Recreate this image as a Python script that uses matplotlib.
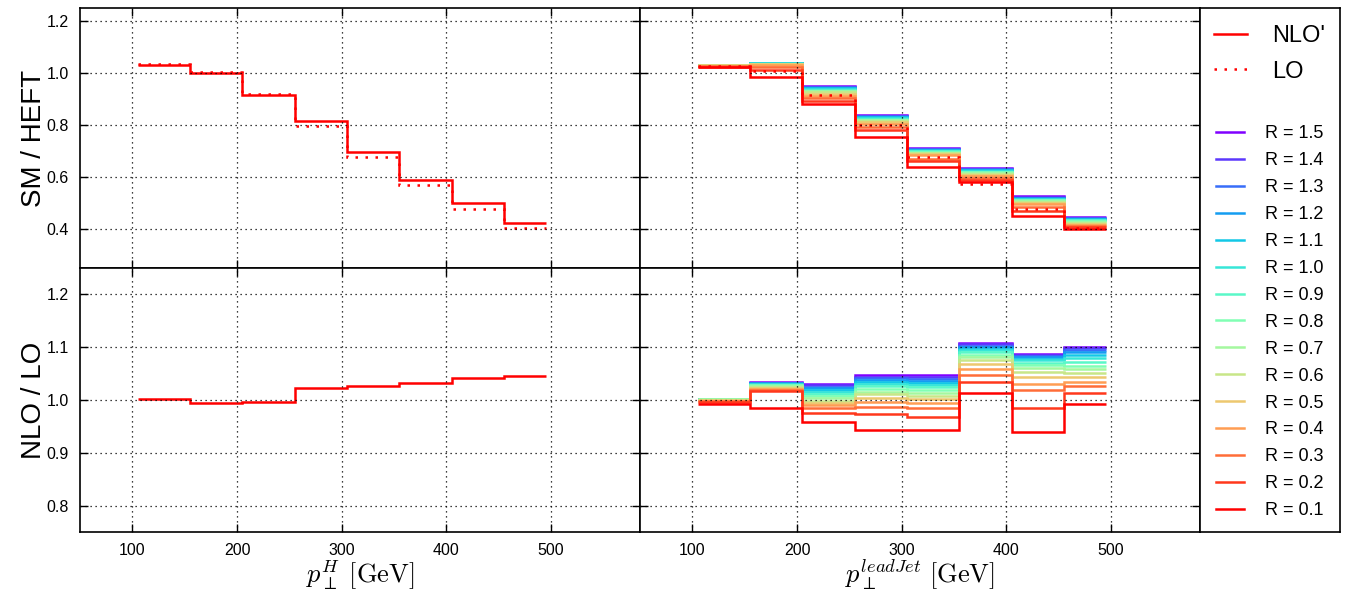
import numpy as np
import matplotlib
matplotlib.use("Agg")
import matplotlib.pyplot as plt
from matplotlib.lines import Line2D

plt.rcParams['font.family'] = ['Liberation Sans', 'DejaVu Sans']
plt.rcParams['mathtext.fontset'] = 'cm'

# ---------------- data ----------------
bin_edges = [105, 155, 205, 255, 305, 355, 405, 455, 495]

# left panels (p_T^H)
sm_heft_nlo = [1.032, 1.000, 0.916, 0.814, 0.695, 0.588, 0.499, 0.424]
sm_heft_lo = [1.033, 1.003, 0.920, 0.798, 0.676, 0.569, 0.478, 0.403]
nlo_lo_h = [1.002, 0.995, 0.997, 1.022, 1.027, 1.032, 1.042, 1.046]

R_values = [1.5, 1.4, 1.3, 1.2, 1.1, 1.0, 0.9, 0.8, 0.7, 0.6, 0.5, 0.4, 0.3, 0.2, 0.1]

# right top panel: SM/HEFT per bin (rows = bins, columns = R from 1.5 down to 0.1)
sm_heft_jet_bins = [
    [1.032, 1.032, 1.032, 1.031, 1.031, 1.031, 1.030, 1.030, 1.030, 1.029, 1.029, 1.028, 1.027, 1.025, 1.022],
    [1.040, 1.039, 1.039, 1.038, 1.038, 1.037, 1.036, 1.036, 1.035, 1.034, 1.033, 1.031, 1.025, 1.013, 0.986],
    [0.949, 0.947, 0.945, 0.943, 0.941, 0.938, 0.935, 0.932, 0.929, 0.925, 0.920, 0.912, 0.903, 0.893, 0.879],
    [0.838, 0.836, 0.834, 0.832, 0.830, 0.827, 0.824, 0.821, 0.818, 0.814, 0.810, 0.804, 0.792, 0.780, 0.752],
    [0.710, 0.709, 0.707, 0.705, 0.703, 0.701, 0.699, 0.697, 0.694, 0.691, 0.688, 0.683, 0.671, 0.660, 0.640],
    [0.634, 0.632, 0.630, 0.628, 0.626, 0.624, 0.621, 0.618, 0.615, 0.612, 0.608, 0.603, 0.596, 0.589, 0.580],
    [0.525, 0.523, 0.521, 0.519, 0.517, 0.515, 0.513, 0.510, 0.507, 0.504, 0.500, 0.495, 0.485, 0.470, 0.449],
    [0.446, 0.444, 0.442, 0.440, 0.438, 0.436, 0.433, 0.430, 0.427, 0.424, 0.420, 0.416, 0.411, 0.406, 0.401],
]
sm_heft_jet_lo = [1.028, 1.007, 0.916, 0.800, 0.678, 0.572, 0.478, 0.405]

# right bottom panel: NLO/LO per bin (rows = bins, columns = R from 1.5 down to 0.1)
nlo_lo_jet_bins = [
    [1.002, 1.002, 1.002, 1.002, 1.002, 1.002, 1.001, 1.001, 1.001, 1.000, 1.000, 0.999, 0.998, 0.996, 0.993],
    [1.034, 1.033, 1.033, 1.032, 1.031, 1.030, 1.029, 1.028, 1.027, 1.025, 1.023, 1.021, 1.019, 1.017, 0.984],
    [1.031, 1.028, 1.025, 1.022, 1.018, 1.015, 1.011, 1.007, 1.003, 0.999, 0.995, 0.990, 0.984, 0.976, 0.959],
    [1.047, 1.044, 1.041, 1.038, 1.034, 1.030, 1.026, 1.021, 1.016, 1.011, 1.004, 0.996, 0.987, 0.974, 0.944],
    [1.047, 1.044, 1.040, 1.036, 1.032, 1.028, 1.024, 1.019, 1.014, 1.008, 1.002, 0.995, 0.985, 0.968, 0.944],
    [1.108, 1.106, 1.103, 1.100, 1.097, 1.094, 1.090, 1.086, 1.081, 1.076, 1.068, 1.058, 1.047, 1.035, 1.014],
    [1.088, 1.086, 1.084, 1.081, 1.078, 1.075, 1.071, 1.066, 1.060, 1.053, 1.044, 1.031, 1.018, 0.985, 0.940],
    [1.101, 1.098, 1.094, 1.090, 1.085, 1.079, 1.072, 1.065, 1.058, 1.051, 1.044, 1.034, 1.027, 1.014, 0.993],
]

x_ticks = [100, 200, 300, 400, 500]
top_yticks = [0.4, 0.6, 0.8, 1.0, 1.2]
bot_yticks = [0.8, 0.9, 1.0, 1.1, 1.2]
top_ylabel = 'SM / HEFT'
bot_ylabel = 'NLO / LO'
xlabel_left = r'$p_{\perp}^{H}\ \mathrm{[GeV]}$'
xlabel_right = r'$p_{\perp}^{leadJet}\ \mathrm{[GeV]}$'

# ---------------- figure ----------------
W, H = 1349, 594
fig = plt.figure(figsize=(W / 100, H / 100), dpi=100)

def fx(px):
    return px / W

def fy(py):
    return 1 - py / H

xl, xm, xr = 80, 640, 1200
yt, ymid, yb = 8, 268, 532

ax_tl = fig.add_axes([fx(xl), fy(ymid), fx(xm - xl), (ymid - yt) / H])
ax_tr = fig.add_axes([fx(xm), fy(ymid), fx(xr - xm), (ymid - yt) / H])
ax_bl = fig.add_axes([fx(xl), fy(yb), fx(xm - xl), (yb - ymid) / H])
ax_br = fig.add_axes([fx(xm), fy(yb), fx(xr - xm), (yb - ymid) / H])
ax_leg = fig.add_axes([fx(xr), fy(yb), fx(1340 - xr), (yb - yt) / H])

red = '#ff0000'
lw = 1.8
cols = [plt.cm.rainbow(i / (len(R_values) - 1)) for i in range(len(R_values))]

# left top
ax_tl.stairs(sm_heft_nlo, bin_edges, baseline=None, color=red, lw=lw)
ax_tl.stairs(sm_heft_lo, bin_edges, baseline=None, color=red, lw=lw, ls=(0, (1, 3)))
# left bottom
ax_bl.stairs(nlo_lo_h, bin_edges, baseline=None, color=red, lw=lw)

# right panels
top_arr = np.array(sm_heft_jet_bins)
bot_arr = np.array(nlo_lo_jet_bins)
for j, R in enumerate(R_values):
    ax_tr.stairs(top_arr[:, j], bin_edges, baseline=None, color=cols[j], lw=lw)
    ax_br.stairs(bot_arr[:, j], bin_edges, baseline=None, color=cols[j], lw=lw)
ax_tr.stairs(sm_heft_jet_lo, bin_edges, baseline=None, color=red, lw=lw, ls=(0, (1, 3)))

for ax in (ax_tl, ax_tr, ax_bl, ax_br):
    ax.set_xlim(50, 585)
    ax.set_xticks(x_ticks)
    ax.grid(True, color='black', ls=(0, (1, 3)), lw=0.9)
    ax.tick_params(direction='in', top=True, right=True, length=6, width=1,
                   labelsize=11.5, pad=8)
    for s in ax.spines.values():
        s.set_linewidth(1.2)

for ax in (ax_tl, ax_tr):
    ax.set_ylim(0.25, 1.25)
    ax.set_yticks(top_yticks)
    ax.set_yticklabels([f'{v:.1f}' for v in top_yticks])
    ax.tick_params(labelbottom=False)
for ax in (ax_bl, ax_br):
    ax.set_ylim(0.75, 1.25)
    ax.set_yticks(bot_yticks)
    ax.set_yticklabels([f'{v:.1f}' for v in bot_yticks])
    ax.set_xticklabels([str(v) for v in x_ticks])
for ax in (ax_tr, ax_br):
    ax.tick_params(labelleft=False)

ax_tl.set_ylabel(top_ylabel, fontsize=20, labelpad=0)
ax_bl.set_ylabel(bot_ylabel, fontsize=20, labelpad=0)
ax_bl.set_xlabel(xlabel_left, fontsize=19, labelpad=0)
ax_br.set_xlabel(xlabel_right, fontsize=19, labelpad=0)

# legend axes
ax_leg.set_xticks([])
ax_leg.set_yticks([])
for s in ax_leg.spines.values():
    s.set_linewidth(1.2)

h1 = [Line2D([], [], color=red, lw=lw), Line2D([], [], color=red, lw=lw, ls=(0, (1, 3)))]
leg1 = ax_leg.legend(h1, ["NLO'", 'LO'], loc='upper left', bbox_to_anchor=(0.03, 0.985),
                     frameon=False, fontsize=17, handlelength=1.4, handletextpad=1.06,
                     labelspacing=0.56, borderaxespad=0)
ax_leg.add_artist(leg1)
h2 = [Line2D([], [], color=cols[j], lw=lw) for j in range(len(R_values))]
ax_leg.legend(h2, [f'R = {R:.1f}' for R in R_values], loc='upper left',
              bbox_to_anchor=(0.064, 0.79), frameon=False, fontsize=13,
              handlelength=1.55, handletextpad=1.17, labelspacing=0.55, borderaxespad=0)

fig.savefig('out.png', dpi=100)
